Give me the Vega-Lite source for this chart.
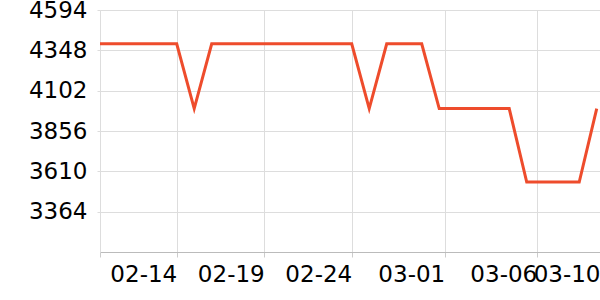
{
  "$schema": "https://vega.github.io/schema/vega-lite/v6.json",
  "width": 500,
  "height": 242,
  "autosize": {"type": "none"},
  "padding": {"left": 100, "top": 10, "right": 0, "bottom": 48},
  "config": {
    "view": {"stroke": null},
    "font": "DejaVu Sans"
  },
  "data": {
    "values": [
      {"date": "2023-02-09", "price": 4388},
      {"date": "2023-02-10", "price": 4388},
      {"date": "2023-02-11", "price": 4388},
      {"date": "2023-02-12", "price": 4388},
      {"date": "2023-02-13", "price": 4388},
      {"date": "2023-02-14", "price": 4388},
      {"date": "2023-02-15", "price": 3993},
      {"date": "2023-02-16", "price": 4388},
      {"date": "2023-02-17", "price": 4388},
      {"date": "2023-02-18", "price": 4388},
      {"date": "2023-02-19", "price": 4388},
      {"date": "2023-02-20", "price": 4388},
      {"date": "2023-02-21", "price": 4388},
      {"date": "2023-02-22", "price": 4388},
      {"date": "2023-02-23", "price": 4388},
      {"date": "2023-02-24", "price": 4388},
      {"date": "2023-02-25", "price": 3993},
      {"date": "2023-02-26", "price": 4388},
      {"date": "2023-02-27", "price": 4388},
      {"date": "2023-02-28", "price": 4388},
      {"date": "2023-03-01", "price": 3993},
      {"date": "2023-03-02", "price": 3993},
      {"date": "2023-03-03", "price": 3993},
      {"date": "2023-03-04", "price": 3993},
      {"date": "2023-03-05", "price": 3993},
      {"date": "2023-03-06", "price": 3545},
      {"date": "2023-03-07", "price": 3545},
      {"date": "2023-03-08", "price": 3545},
      {"date": "2023-03-09", "price": 3545},
      {"date": "2023-03-10", "price": 3993}
    ]
  },
  "mark": {"type": "line", "color": "#ee4c2c", "strokeWidth": 3, "clip": true},
  "encoding": {
    "x": {
      "field": "date",
      "type": "temporal",
      "scale": {
        "type": "utc",
        "domain": [
          {"year": 2023, "month": 2, "date": 9, "hours": 14, "minutes": 48, "utc": true},
          {"year": 2023, "month": 3, "date": 10, "hours": 4, "minutes": 30, "utc": true}
        ]
      },
      "axis": {
        "title": null,
        "values": [
          {"year": 2023, "month": 2, "date": 9, "hours": 14, "minutes": 48, "utc": true},
          {"year": 2023, "month": 2, "date": 14, "utc": true},
          {"year": 2023, "month": 2, "date": 19, "utc": true},
          {"year": 2023, "month": 2, "date": 24, "utc": true},
          {"year": 2023, "month": 3, "date": 1, "hours": 7, "minutes": 32, "utc": true},
          {"year": 2023, "month": 3, "date": 6, "hours": 13, "minutes": 42, "utc": true},
          {"year": 2023, "month": 3, "date": 10, "hours": 4, "minutes": 30, "utc": true}
        ],
        "labelExpr": "datum.value < utc(2023, 1, 10) ? '' : utcFormat(datum.value, '%m-%d')",
        "labelAlign": "right",
        "labelBaseline": "top",
        "labelFontSize": 23,
        "labelFont": "DejaVu Sans",
        "labelColor": "#000000",
        "labelPadding": 6,
        "labelOverlap": false,
        "labelFlush": false,
        "tickSize": 5,
        "tickColor": "#cccccc",
        "domainColor": "#bbbbbb",
        "gridColor": "#dddddd",
        "grid": true
      }
    },
    "y": {
      "field": "price",
      "type": "quantitative",
      "scale": {"domain": [3118, 4594], "nice": false, "zero": false},
      "axis": {
        "title": null,
        "values": [3364, 3610, 3856, 4102, 4348, 4594],
        "labelFontSize": 23,
        "labelFont": "DejaVu Sans",
        "labelColor": "#000000",
        "labelPadding": 10,
        "labelOverlap": false,
        "labelFlush": false,
        "tickSize": 3,
        "tickColor": "#dddddd",
        "domainColor": "#dddddd",
        "gridColor": "#dddddd",
        "format": "d"
      }
    }
  }
}
